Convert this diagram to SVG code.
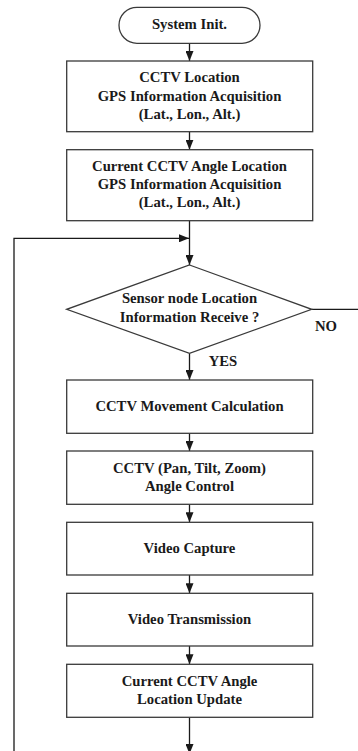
<svg xmlns="http://www.w3.org/2000/svg" width="358" height="751" viewBox="0 0 358 751">
<style>
.s{fill:#fff;stroke:#3a3a3a;stroke-width:1.3}
.t{font-family:"Liberation Serif","Times New Roman",serif;font-weight:bold;font-size:14.7px;fill:#1a1a1a;text-anchor:middle}
.c{fill:none;stroke:#1a1a1a;stroke-width:1.3}
</style>
<defs>
<marker id="ah" markerWidth="10" markerHeight="8" refX="10" refY="4" orient="auto" markerUnits="userSpaceOnUse">
<path d="M0,0 L10,4 L0,8 Z" fill="#1a1a1a"/>
</marker>
</defs>
<g id="connectors">
<line class="c" x1="189.5" y1="43.3" x2="189.5" y2="61" marker-end="url(#ah)"/>
<line class="c" x1="189.5" y1="131.7" x2="189.5" y2="149.7" marker-end="url(#ah)"/>
<line class="c" x1="189.5" y1="220.7" x2="189.5" y2="265" marker-end="url(#ah)"/>
<polyline class="c" points="14,751 14,238.3 189,238.3" marker-end="url(#ah)"/>
<line class="c" x1="311.7" y1="309.3" x2="358" y2="309.3"/>
<line class="c" x1="189.5" y1="353.3" x2="189.5" y2="380" marker-end="url(#ah)"/>
<line class="c" x1="189.5" y1="433.3" x2="189.5" y2="451" marker-end="url(#ah)"/>
<line class="c" x1="189.5" y1="504.3" x2="189.5" y2="522.3" marker-end="url(#ah)"/>
<line class="c" x1="189.5" y1="575" x2="189.5" y2="593.3" marker-end="url(#ah)"/>
<line class="c" x1="189.5" y1="646" x2="189.5" y2="664.3" marker-end="url(#ah)"/>
<line class="c" x1="189.5" y1="717.3" x2="189.5" y2="754" marker-end="url(#ah)"/>
<text class="t" x="326" y="330.7">NO</text>
<text class="t" x="223" y="366">YES</text>
</g>
<g id="start">
<rect class="s" x="119" y="7.3" width="141" height="36" rx="18" ry="18"/>
<text class="t" x="189.5" y="29.3">System Init.</text>
</g>
<g id="gps1">
<rect class="s" x="66.7" y="61" width="246" height="70.7"/>
<text class="t" x="189.5" y="82.3">CCTV Location</text>
<text class="t" x="189.5" y="100.5">GPS Information Acquisition</text>
<text class="t" x="189.5" y="119">(Lat., Lon., Alt.)</text>
</g>
<g id="gps2">
<rect class="s" x="66.7" y="149.7" width="246" height="71"/>
<text class="t" x="189.5" y="170.5">Current CCTV Angle Location</text>
<text class="t" x="189.5" y="188.7">GPS Information Acquisition</text>
<text class="t" x="189.5" y="207.3">(Lat., Lon., Alt.)</text>
</g>
<g id="decision">
<polygon class="s" points="189.5,265 311.7,309.3 189.5,353.3 66.7,309.3"/>
<text class="t" x="189.5" y="303.3">Sensor node Location</text>
<text class="t" x="189.5" y="321.7">Information Receive ?</text>
</g>
<g id="movement">
<rect class="s" x="66.7" y="380" width="246" height="53.3"/>
<text class="t" x="189.5" y="410.7">CCTV Movement Calculation</text>
</g>
<g id="angle">
<rect class="s" x="66.7" y="451" width="246" height="53.3"/>
<text class="t" x="189.5" y="472.7">CCTV (Pan, Tilt, Zoom)</text>
<text class="t" x="189.5" y="490.7">Angle Control</text>
</g>
<g id="capture">
<rect class="s" x="66.7" y="522.3" width="246" height="52.7"/>
<text class="t" x="189.5" y="553.3">Video Capture</text>
</g>
<g id="transmission">
<rect class="s" x="66.7" y="593.3" width="246" height="52.7"/>
<text class="t" x="189.5" y="624">Video Transmission</text>
</g>
<g id="update">
<rect class="s" x="66.7" y="664.3" width="246" height="53"/>
<text class="t" x="189.5" y="686">Current CCTV Angle</text>
<text class="t" x="189.5" y="704">Location Update</text>
</g>
</svg>
